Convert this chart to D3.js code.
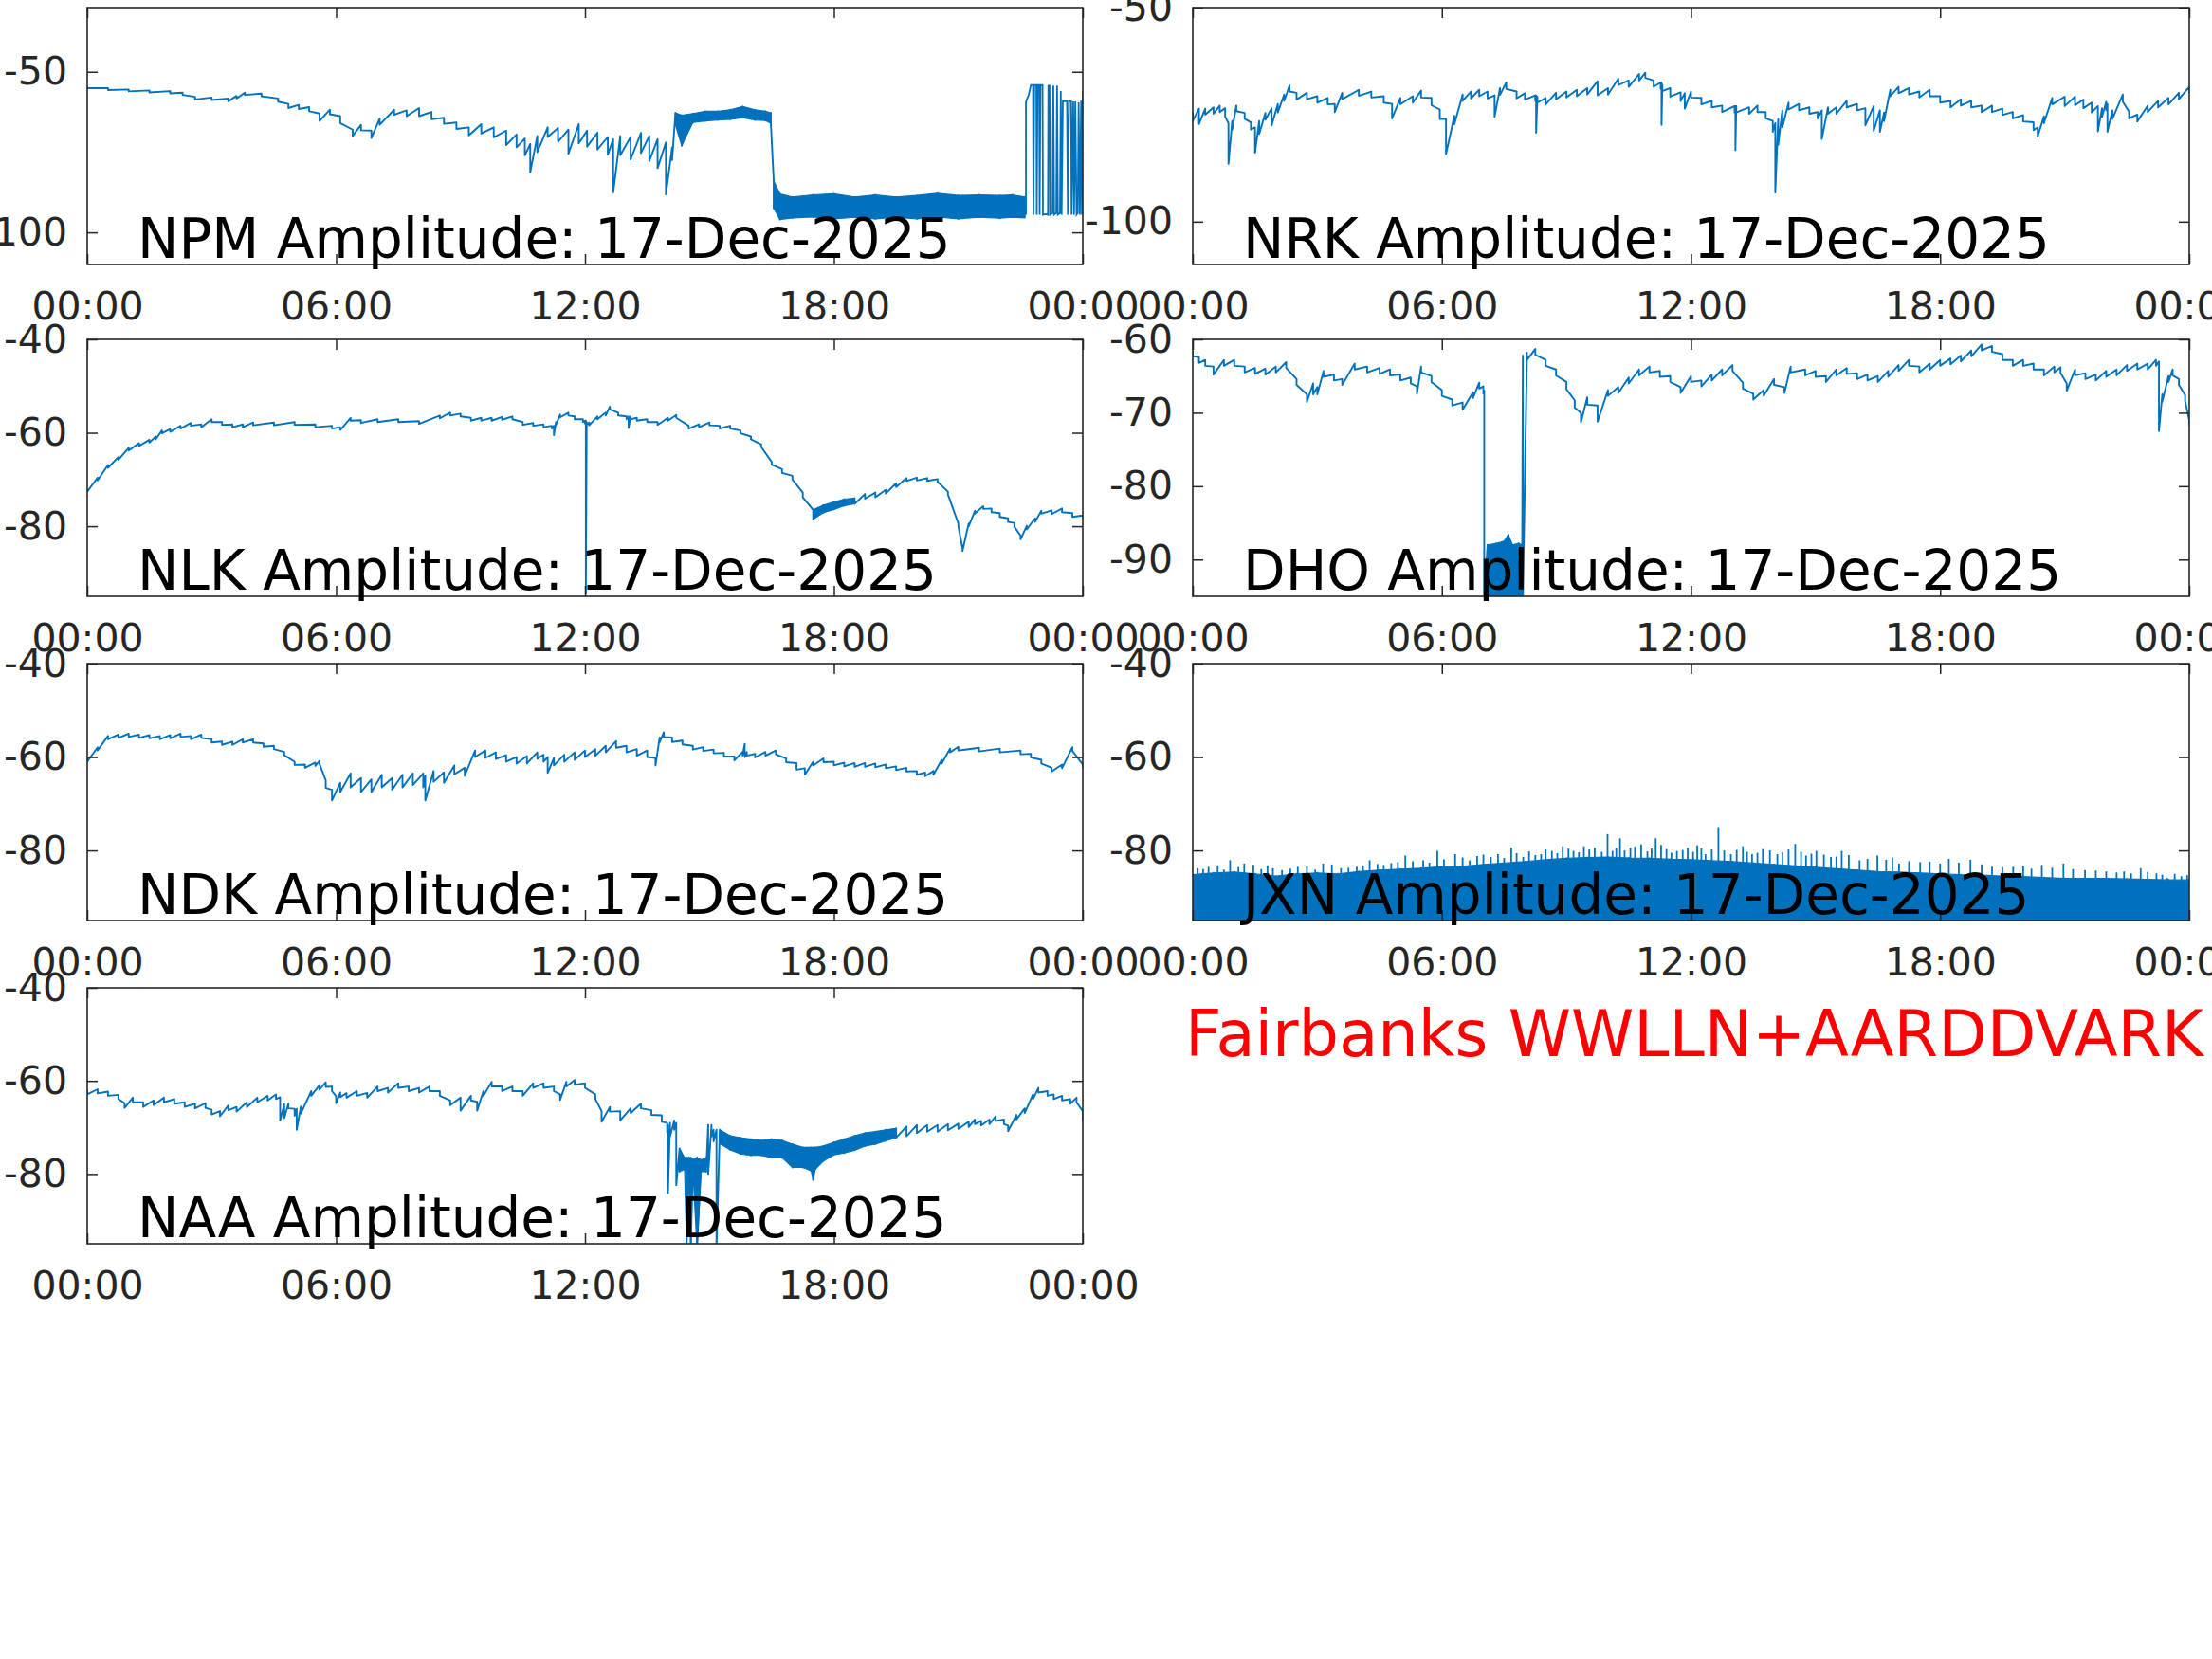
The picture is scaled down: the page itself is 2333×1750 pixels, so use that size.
<!DOCTYPE html>
<html><head><meta charset="utf-8">
<script src="https://cdn.jsdelivr.net/npm/d3@7"></script>
<style>body{margin:0;background:#fff}svg{display:block}</style>
</head><body>
<script>
// ---------- data ----------
const xTickHours = [0, 6, 12, 18, 24];
const xTickLabels = ["00:00", "06:00", "12:00", "18:00", "00:00"];
const dateLabel = "17-Dec-2025";
const siteLabel = "Fairbanks WWLLN+AARDDVARK";

const npmYDomain = [-110, -30], npmYTicks = [-100, -50];
const nrkYDomain = [-110, -50], nrkYTicks = [-100, -50];
const nlkYDomain = [-95, -40], nlkYTicks = [-80, -60, -40];
const dhoYDomain = [-95, -60], dhoYTicks = [-90, -80, -70, -60];
const ndkYDomain = [-95, -40], ndkYTicks = [-80, -60, -40];
const jxnYDomain = [-95, -40], jxnYTicks = [-80, -60, -40];
const naaYDomain = [-95, -40], naaYTicks = [-80, -60, -40];

// rows: [hour, max dB, min dB]
const npmEnv = [[0,-54.4,-55.1],[0.5,-55.1,-55.7],[1,-55.5,-56.1],[1.5,-55.8,-56.4],[2,-56.0,-56.7],[2.3,-56.5,-57.2],[2.6,-57.8,-58.6],[3,-58.0,-58.8],[3.4,-58.3,-59.2],[3.6,-57.5,-58.3],[3.8,-56.5,-57.2],[4.2,-56.8,-57.6],[4.6,-58.3,-59.3],[4.85,-60.0,-61.3],[5.1,-60.3,-61.6],[5.35,-61.0,-62.3],[5.6,-63.0,-65.3],[5.85,-61.8,-63.2],[6.1,-63.8,-66.0],[6.4,-68.0,-70.0],[6.6,-66.5,-68.2],[6.85,-68.3,-70.6],[7.05,-64.6,-66.5],[7.4,-61.8,-63.4],[7.7,-62.0,-63.8],[8.0,-61.3,-63.8],[8.3,-62.5,-64.8],[8.6,-64.3,-66.2],[8.9,-65.8,-67.8],[9.2,-67.3,-69.8],[9.5,-66.3,-69.2],[9.8,-67.3,-70.4],[10.1,-68.3,-72.8],[10.35,-69.5,-73.5],[10.55,-70.8,-76.0],[10.68,-72.5,-81.3],[10.85,-70.0,-75.0],[11.1,-67.3,-70.3],[11.35,-67.5,-71.8],[11.6,-68.0,-75.5],[11.85,-66.3,-72.3],[12.05,-68.3,-73.3],[12.3,-69.0,-74.2],[12.55,-70.3,-75.8],[12.68,-71.0,-87.6],[12.85,-70.0,-76.0],[13.1,-70.3,-77.3],[13.35,-69.0,-75.3],[13.55,-70.0,-77.8],[13.75,-71.0,-80.0],[13.95,-72.0,-88.2],[14.1,-73.5,-77.5],[14.18,-62.8,-66.5],[14.33,-63.5,-73.0],[14.6,-63.0,-65.8],[14.9,-62.3,-65.3],[15.2,-62.3,-65.0],[15.5,-61.8,-64.8],[15.8,-60.8,-64.3],[16.1,-61.8,-65.0],[16.35,-62.3,-65.2],[16.48,-62.8,-66.0],[16.55,-84.0,-92.5],[16.7,-88.0,-96.0],[17.0,-89.0,-95.5],[17.5,-88.3,-95.2],[18.0,-88.0,-95.8],[18.5,-89.0,-95.3],[19.0,-88.3,-95.8],[19.5,-89.0,-95.3],[20.0,-88.5,-95.8],[20.5,-87.8,-95.2],[21.0,-88.5,-95.8],[21.5,-88.3,-95.3],[22.0,-88.5,-95.6],[22.3,-88.3,-95.3],[22.6,-89.0,-95.5]];
// [hour, dB] switching section traced point by point
const npmTrace = [[22.6,-92],[22.63,-94.5],[22.63,-59.4],[22.7,-57],[22.75,-54.1],[22.8,-54.1],[22.81,-94.5],[22.83,-54.1],[22.88,-54.1],[22.89,-94.5],[22.91,-54.1],[22.95,-54.1],[22.96,-94.5],[22.98,-54.1],[23.03,-54.1],[23.04,-94.5],[23.1,-94.3],[23.16,-94.5],[23.17,-54.3],[23.2,-54.3],[23.21,-94.5],[23.27,-94],[23.29,-54.3],[23.31,-94.5],[23.36,-94],[23.38,-54.3],[23.4,-94.5],[23.45,-94],[23.47,-56],[23.49,-94.5],[23.52,-59.2],[23.62,-59.2],[23.64,-94.5],[23.67,-59.2],[23.72,-59.2],[23.73,-94.5],[23.77,-59.2],[23.79,-94.5],[23.82,-59.2],[23.85,-94.5],[23.88,-94],[23.9,-59.5],[23.93,-94.5],[23.96,-59],[23.98,-94.5],[24,-56]];
const npmDense = [[14.18, 16.48], [16.55, 22.6]];

const nrkEnv = [[0,-74.6,-76.5],[0.15,-73.6,-77.2],[0.3,-73.6,-75.0],[0.5,-73.3,-74.8],[0.65,-72.9,-74.4],[0.78,-73.5,-75.5],[0.86,-77.0,-86.5],[0.95,-76.5,-78.5],[1.05,-72.9,-74.2],[1.25,-74.6,-76.0],[1.4,-76.8,-78.5],[1.5,-78.0,-83.9],[1.6,-76.5,-79.5],[1.75,-74.6,-76.2],[1.9,-73.5,-77.5],[2.05,-72.5,-74.5],[2.2,-70.3,-71.8],[2.33,-68.2,-69.6],[2.5,-69.9,-71.5],[2.75,-69.9,-71.4],[3.0,-70.7,-72.2],[3.25,-71.1,-72.6],[3.42,-72.5,-74.4],[3.6,-69.9,-71.4],[4.0,-69.2,-70.6],[4.3,-69.6,-71.0],[4.6,-70.7,-72.2],[4.8,-72.5,-75.9],[5.0,-71.1,-72.6],[5.3,-70.7,-72.2],[5.5,-69.4,-71.0],[5.75,-71.1,-72.8],[5.95,-73.8,-76.0],[6.1,-76.0,-84.2],[6.3,-75.3,-77.3],[6.5,-70.3,-71.8],[6.7,-69.6,-71.2],[6.9,-69.2,-70.7],[7.1,-69.6,-71.2],[7.27,-70.5,-75.5],[7.4,-68.8,-70.4],[7.55,-67.5,-69.0],[7.8,-69.6,-71.2],[8.0,-70.0,-71.5],[8.25,-70.5,-71.8],[8.27,-70.5,-79.2],[8.3,-70.8,-72.2],[8.5,-71.1,-72.6],[8.75,-69.9,-71.4],[9.0,-69.6,-71.0],[9.25,-69.2,-70.7],[9.5,-68.8,-70.3],[9.75,-67.2,-70.5],[10.0,-68.8,-70.3],[10.25,-66.6,-68.1],[10.5,-67.0,-68.5],[10.75,-65.5,-67.0],[10.9,-65.2,-66.4],[11.1,-67.0,-68.5],[11.27,-67.5,-69.0],[11.29,-67.5,-77.4],[11.31,-68.0,-69.5],[11.5,-68.8,-70.8],[11.75,-69.8,-71.8],[11.85,-70.0,-73.6],[12.0,-69.6,-71.0],[12.25,-71.1,-72.6],[12.5,-71.8,-73.3],[12.75,-72.9,-74.4],[13.05,-73.0,-74.5],[13.07,-73.0,-83.3],[13.09,-73.0,-74.5],[13.4,-73.3,-74.8],[13.6,-72.9,-74.4],[13.8,-74.4,-75.9],[13.97,-76.5,-79.0],[14.03,-77.0,-93.2],[14.1,-76.0,-82.0],[14.2,-74.0,-78.0],[14.35,-72.2,-73.8],[14.6,-72.5,-74.0],[14.85,-73.3,-74.8],[15.05,-74.4,-75.9],[15.15,-74.0,-80.7],[15.3,-73.3,-74.8],[15.5,-73.3,-74.8],[15.75,-71.8,-73.3],[16.0,-72.5,-74.0],[16.2,-73.5,-77.5],[16.4,-73.0,-78.8],[16.55,-74.0,-79.0],[16.65,-74.5,-76.5],[16.8,-69.2,-70.7],[17.0,-68.5,-70.0],[17.25,-68.8,-70.3],[17.5,-69.6,-71.0],[17.75,-69.2,-70.7],[18.0,-70.7,-72.2],[18.25,-71.8,-73.3],[18.5,-71.4,-72.9],[18.75,-71.8,-73.3],[19.0,-72.9,-74.4],[19.25,-72.9,-74.4],[19.5,-73.6,-75.1],[19.75,-74.4,-75.9],[20.0,-75.1,-76.6],[20.25,-76.8,-78.6],[20.35,-78.0,-80.1],[20.5,-75.4,-77.0],[20.7,-71.1,-72.6],[21.0,-70.8,-73.0],[21.25,-70.8,-72.8],[21.45,-71.5,-73.5],[21.65,-72.2,-74.5],[21.8,-73.0,-78.9],[21.9,-73.5,-75.5],[22.0,-72.0,-74.0],[22.03,-72.5,-79.0],[22.15,-74.0,-76.0],[22.4,-70.3,-72.0],[22.55,-74.3,-75.9],[22.75,-75.0,-76.6],[23.0,-72.9,-74.4],[23.25,-71.8,-73.3],[23.5,-71.1,-72.6],[23.75,-69.9,-71.4],[24.0,-68.5,-70.0]];

const nlkEnv = [[0,-72.0,-72.6],[0.25,-69.6,-70.2],[0.5,-66.9,-67.5],[0.75,-65.2,-65.8],[1,-63.2,-63.8],[1.25,-62.2,-62.8],[1.5,-61.5,-62.1],[1.65,-60.8,-61.4],[1.8,-59.5,-60.1],[2,-59.2,-59.8],[2.25,-58.5,-59.1],[2.5,-57.9,-58.5],[2.75,-58.2,-58.8],[3,-57.1,-57.7],[3.25,-57.7,-58.3],[3.5,-58.2,-58.8],[3.75,-58.2,-58.8],[4,-57.8,-58.4],[4.5,-57.8,-58.4],[5,-57.7,-58.3],[5.5,-58.2,-58.8],[5.9,-58.5,-59.1],[6.1,-58.8,-59.4],[6.35,-56.8,-57.4],[6.6,-57.3,-57.9],[7,-57.1,-57.7],[7.5,-57.1,-57.7],[8,-57.5,-58.1],[8.5,-56.3,-56.9],[8.75,-55.7,-56.3],[9,-55.9,-56.5],[9.25,-56.8,-57.4],[9.5,-56.8,-57.4],[9.75,-56.8,-57.4],[10,-56.6,-57.2],[10.25,-56.5,-57.1],[10.5,-57.7,-58.3],[10.75,-57.9,-58.5],[11,-58.2,-58.8],[11.2,-58.5,-59.1],[11.25,-58.5,-60.5],[11.3,-57.7,-58.3],[11.4,-56.1,-56.7],[11.6,-55.7,-56.3],[11.75,-56.5,-57.1],[11.95,-57.1,-57.7],[12.0,-57.4,-58.0],[12.02,-57.4,-94.5],[12.04,-57.7,-58.3],[12.1,-57.8,-58.4],[12.3,-56.5,-57.1],[12.5,-55.7,-56.3],[12.6,-54.4,-55.0],[12.8,-55.7,-56.3],[13,-56.5,-57.1],[13.05,-56.5,-59.0],[13.1,-56.5,-57.1],[13.25,-56.8,-57.4],[13.5,-57.1,-57.7],[13.75,-57.7,-58.3],[14,-56.8,-57.4],[14.2,-56.2,-56.8],[14.5,-58.5,-59.1],[14.75,-58.2,-58.8],[15,-57.8,-58.4],[15.25,-58.5,-59.1],[15.5,-58.5,-59.1],[15.75,-59.5,-60.1],[16,-60.8,-61.4],[16.25,-62.5,-63.1],[16.5,-66.2,-66.8],[16.75,-67.8,-68.6],[17,-69.2,-70.0],[17.25,-72.8,-73.8],[17.5,-76.5,-78.5],[17.75,-75.5,-77.1],[18,-74.8,-76.4],[18.25,-74.2,-75.6],[18.5,-74.0,-75.2],[18.75,-73.1,-74.1],[19,-72.8,-73.8],[19.25,-72.2,-73.0],[19.5,-70.8,-71.6],[19.75,-69.7,-70.3],[20,-69.6,-70.2],[20.25,-69.7,-70.3],[20.5,-69.9,-70.5],[20.75,-72.6,-73.2],[21,-79.4,-80.0],[21.1,-84.7,-85.3],[21.25,-79.4,-80.0],[21.4,-76.7,-77.3],[21.6,-75.7,-76.3],[21.8,-76.2,-77.0],[22,-77.2,-78.0],[22.2,-78.3,-79.1],[22.35,-79.3,-80.1],[22.5,-82.0,-82.8],[22.65,-79.9,-80.7],[22.85,-78.3,-79.1],[23,-76.7,-77.3],[23.25,-76.6,-77.4],[23.5,-76.2,-77.0],[23.75,-77.2,-78.0],[24,-77.7,-78.3]];
const nlkDense = [[17.4, 18.6]];

const dhoEnv = [[0,-61.5,-62.3],[0.15,-62.4,-63.2],[0.3,-62.8,-63.6],[0.5,-63.7,-64.8],[0.75,-62.8,-63.6],[1.0,-62.8,-63.6],[1.25,-63.7,-64.5],[1.5,-63.9,-64.7],[1.75,-64.0,-64.8],[2.0,-63.7,-64.5],[2.25,-63.1,-63.9],[2.5,-65.4,-66.2],[2.75,-67.5,-68.5],[2.9,-66.0,-67.5],[3.0,-66.5,-67.5],[3.15,-64.3,-65.1],[3.4,-64.8,-65.6],[3.6,-65.4,-66.2],[3.9,-63.3,-64.1],[4.2,-63.7,-64.5],[4.5,-63.9,-64.7],[4.75,-64.1,-64.9],[5.0,-64.8,-65.6],[5.25,-65.2,-66.0],[5.4,-66.4,-67.4],[5.5,-63.7,-64.5],[5.75,-65.0,-65.8],[6.0,-66.9,-67.7],[6.25,-68.2,-69.0],[6.5,-68.6,-69.6],[6.75,-67.2,-68.0],[6.9,-65.9,-66.7],[7.0,-66.4,-67.4],[7.02,-67.0,-95.5],[7.1,-88.0,-96.0],[7.3,-87.8,-96.0],[7.5,-87.5,-96.0],[7.6,-86.6,-96.0],[7.7,-88.0,-96.0],[7.85,-87.8,-96.0],[7.93,-88.0,-96.0],[7.95,-62.2,-96.0],[8.05,-61.8,-62.8],[8.25,-61.3,-62.1],[8.5,-62.8,-63.6],[8.75,-64.1,-64.9],[9.0,-65.8,-66.8],[9.2,-68.3,-69.3],[9.35,-70.0,-71.3],[9.5,-67.9,-68.9],[9.75,-69.0,-71.2],[10.0,-66.9,-67.7],[10.25,-66.5,-67.3],[10.5,-65.2,-66.0],[10.75,-64.1,-64.9],[11.0,-63.7,-64.5],[11.25,-64.3,-65.1],[11.5,-65.0,-65.8],[11.75,-66.5,-67.3],[12.0,-65.0,-65.8],[12.25,-65.6,-66.4],[12.5,-64.8,-65.6],[12.75,-64.1,-64.9],[13.0,-63.5,-64.3],[13.25,-65.9,-66.7],[13.5,-67.4,-68.2],[13.75,-66.9,-67.7],[14.0,-65.4,-66.2],[14.25,-66.5,-67.3],[14.4,-63.7,-64.5],[14.75,-64.1,-64.9],[15.0,-64.3,-65.1],[15.25,-65.0,-65.8],[15.5,-64.1,-64.9],[15.75,-63.9,-64.7],[16.0,-64.6,-65.4],[16.25,-64.8,-65.6],[16.5,-65.0,-65.8],[16.75,-64.3,-65.1],[17.0,-63.5,-64.3],[17.25,-62.8,-63.6],[17.5,-63.7,-64.5],[17.75,-63.3,-64.1],[18.0,-62.8,-63.6],[18.25,-62.6,-63.4],[18.5,-62.2,-63.0],[18.75,-61.5,-62.3],[19.0,-60.7,-61.5],[19.25,-60.9,-61.7],[19.5,-62.0,-62.8],[19.75,-62.8,-63.6],[20.0,-62.8,-63.6],[20.25,-63.3,-64.1],[20.5,-64.1,-64.9],[20.75,-63.7,-64.5],[20.9,-63.8,-64.6],[21.05,-66.0,-67.0],[21.25,-64.1,-64.9],[21.5,-64.6,-65.4],[21.75,-64.8,-65.6],[22.0,-64.3,-65.1],[22.25,-64.1,-64.9],[22.5,-63.5,-64.3],[22.75,-63.3,-64.1],[23.0,-63.3,-64.1],[23.2,-62.8,-63.6],[23.27,-63.0,-72.5],[23.35,-67.5,-68.5],[23.5,-65.0,-65.8],[23.6,-64.1,-64.9],[23.75,-65.4,-66.2],[23.9,-67.6,-68.4],[24.0,-71.0,-71.8]];
const dhoDense = [[7.05, 7.93]];

const ndkEnv = [[0,-60.3,-61.0],[0.25,-57.9,-58.6],[0.5,-55.5,-56.2],[0.75,-55.2,-55.9],[1,-55.0,-55.7],[1.25,-55.2,-55.9],[1.5,-55.3,-56.0],[1.75,-55.5,-56.2],[2,-55.3,-56.0],[2.25,-55.0,-55.7],[2.5,-55.5,-56.2],[2.75,-55.2,-55.9],[3,-56.2,-56.9],[3.25,-56.7,-57.4],[3.5,-56.7,-57.4],[3.75,-56.2,-56.9],[4,-56.2,-56.9],[4.25,-57.1,-57.8],[4.5,-57.6,-58.3],[4.75,-58.9,-59.6],[5,-61.0,-61.7],[5.25,-61.6,-62.3],[5.5,-61.2,-61.9],[5.6,-60.8,-61.5],[5.75,-65.0,-66.6],[5.9,-67.0,-69.3],[6.1,-65.5,-67.5],[6.35,-63.5,-66.5],[6.6,-64.5,-67.5],[6.85,-64.8,-67.5],[7.1,-63.8,-66.5],[7.35,-64.5,-67.0],[7.6,-63.8,-66.5],[7.85,-63.5,-66.0],[8.1,-63.5,-66.5],[8.15,-64.0,-69.3],[8.35,-63.0,-65.3],[8.6,-63.3,-65.5],[8.85,-61.8,-63.7],[9.1,-62.3,-64.0],[9.35,-58.6,-60.0],[9.6,-58.6,-60.2],[9.85,-59.0,-60.4],[10.1,-59.6,-61.0],[10.35,-60.0,-61.4],[10.6,-59.8,-61.4],[10.85,-59.0,-60.4],[11.0,-59.5,-61.0],[11.1,-60.0,-63.4],[11.25,-60.2,-61.8],[11.5,-59.5,-61.0],[11.75,-59.0,-60.6],[12.0,-58.6,-60.0],[12.25,-58.3,-59.7],[12.5,-57.6,-59.0],[12.75,-56.6,-58.0],[13.0,-57.6,-59.0],[13.25,-58.3,-59.7],[13.5,-58.6,-60.0],[13.7,-60.2,-61.8],[13.8,-55.8,-56.8],[13.9,-54.7,-55.7],[14.1,-55.8,-56.8],[14.35,-56.5,-57.3],[14.6,-57.6,-58.4],[14.85,-57.9,-58.7],[15.1,-58.4,-59.2],[15.35,-59.1,-59.9],[15.6,-59.9,-60.7],[15.8,-58.9,-59.7],[15.85,-57.2,-60.0],[15.9,-58.9,-59.7],[16.1,-59.3,-60.1],[16.35,-58.9,-59.7],[16.6,-58.6,-59.4],[16.85,-60.3,-61.1],[17.1,-61.3,-62.7],[17.3,-62.4,-63.8],[17.5,-61.0,-61.8],[17.75,-60.3,-61.1],[18.0,-61.0,-61.8],[18.25,-61.2,-62.0],[18.5,-61.3,-62.1],[18.75,-61.3,-62.1],[19.0,-61.4,-62.2],[19.25,-61.6,-62.4],[19.5,-62.0,-62.8],[19.75,-62.3,-63.1],[20.0,-63.0,-63.8],[20.2,-63.3,-64.1],[20.4,-63.0,-63.8],[20.6,-60.6,-61.4],[20.8,-58.2,-59.0],[21.0,-57.8,-58.6],[21.5,-58.0,-58.8],[22.0,-58.2,-59.0],[22.5,-58.6,-59.4],[22.75,-59.3,-60.1],[23.0,-60.6,-61.4],[23.25,-62.3,-63.1],[23.5,-61.6,-62.4],[23.75,-57.9,-58.7],[24.0,-61.6,-62.4]];

const jxnEnv = [[0,-85.2,-97],[0.5,-84.8,-97],[1,-84.6,-97],[1.5,-85.0,-97],[2,-85.5,-97],[2.5,-85.0,-97],[3,-84.8,-97],[3.5,-85.0,-97],[4,-84.5,-97],[4.5,-84.2,-97],[5,-84.0,-97],[5.5,-83.8,-97],[6,-83.5,-97],[6.5,-83.4,-97],[7,-83.0,-97],[7.5,-82.7,-97],[8,-82.4,-97],[8.5,-82.0,-97],[9,-81.7,-97],[9.5,-81.5,-97],[10,-81.4,-97],[10.5,-81.6,-97],[11,-81.7,-97],[11.5,-81.9,-97],[12,-82.0,-97],[12.5,-82.2,-97],[13,-82.4,-97],[13.5,-82.7,-97],[14,-83.0,-97],[14.5,-83.3,-97],[15,-83.6,-97],[15.5,-83.9,-97],[16,-84.2,-97],[16.5,-84.5,-97],[17,-84.6,-97],[17.5,-84.8,-97],[18,-85.0,-97],[18.5,-85.2,-97],[19,-85.3,-97],[19.5,-85.5,-97],[20,-85.6,-97],[20.5,-85.8,-97],[21,-86.0,-97],[21.5,-86.0,-97],[22,-86.0,-97],[22.5,-86.1,-97],[23,-86.2,-97],[23.5,-86.3,-97],[24,-86.3,-97]];
const jxnDense = [[0, 24]];
// [hour, peak dB] of the visible noise spikes
const jxnSpikes = [[0.12,-83.8],[0.25,-84.0],[0.38,-83.5],[0.6,-83.2],[0.75,-84.1],[0.9,-82.1],[1.1,-83.6],[1.24,-82.8],[1.46,-83.1],[1.65,-84.0],[1.8,-83.2],[1.93,-83.8],[2.15,-84.2],[2.35,-83.9],[2.53,-83.5],[2.75,-83.4],[2.95,-84.1],[3.14,-82.8],[3.35,-83.0],[3.57,-83.8],[3.75,-83.7],[3.95,-83.5],[4.1,-83.2],[4.26,-82.1],[4.45,-82.9],[4.6,-83.1],[4.78,-82.7],[4.94,-82.5],[5.12,-81.1],[5.3,-82.3],[5.55,-82.1],[5.7,-82.6],[5.89,-80.1],[6.05,-81.9],[6.32,-80.8],[6.5,-81.5],[6.67,-82.1],[6.85,-81.2],[7.0,-80.9],[7.18,-81.4],[7.35,-80.8],[7.5,-81.6],[7.67,-79.4],[7.8,-80.6],[7.96,-81.4],[8.1,-80.2],[8.25,-81.0],[8.39,-80.8],[8.5,-79.8],[8.65,-80.1],[8.78,-80.6],[8.91,-79.1],[9.05,-79.6],[9.17,-80.1],[9.3,-80.4],[9.42,-79.1],[9.55,-79.8],[9.68,-79.4],[9.85,-80.3],[9.99,-76.5],[10.11,-80.1],[10.2,-79.5],[10.29,-77.4],[10.4,-80.0],[10.54,-79.4],[10.65,-79.2],[10.8,-78.7],[10.95,-80.2],[11.05,-79.6],[11.15,-77.4],[11.28,-78.8],[11.41,-79.7],[11.53,-80.5],[11.66,-80.1],[11.8,-79.9],[11.92,-79.4],[12.05,-80.3],[12.15,-78.9],[12.25,-79.5],[12.35,-80.8],[12.5,-79.8],[12.66,-75.0],[12.8,-80.0],[12.96,-80.8],[13.1,-79.9],[13.25,-79.1],[13.35,-80.3],[13.47,-80.8],[13.6,-80.5],[13.73,-79.7],[13.9,-80.0],[14.08,-80.8],[14.2,-80.4],[14.35,-79.8],[14.51,-78.6],[14.65,-80.3],[14.77,-81.1],[14.9,-80.7],[15.02,-80.1],[15.2,-80.9],[15.37,-81.4],[15.5,-81.3],[15.63,-80.1],[15.8,-81.0],[16.06,-82.1],[16.25,-81.8],[16.49,-81.1],[16.7,-82.0],[16.85,-81.5],[17.01,-82.8],[17.25,-82.3],[17.52,-82.5],[17.75,-82.4],[18.0,-82.8],[18.21,-81.8],[18.45,-82.6],[18.73,-82.0],[19.0,-83.0],[19.25,-83.5],[19.5,-83.6],[19.76,-83.5],[20.0,-83.3],[20.2,-83.9],[20.45,-83.1],[20.7,-83.7],[20.97,-82.8],[21.2,-84.0],[21.49,-84.2],[21.75,-84.3],[22.0,-84.5],[22.25,-84.7],[22.43,-84.5],[22.6,-84.9],[22.83,-83.8],[23.0,-84.6],[23.21,-84.9],[23.35,-85.2],[23.47,-85.9],[23.65,-85.0],[23.81,-85.5],[23.95,-85.3]];

const naaEnv = [[0,-62.0,-62.9],[0.25,-61.8,-62.7],[0.5,-62.3,-63.2],[0.75,-63.0,-63.9],[0.9,-64.8,-65.8],[1.1,-63.6,-64.6],[1.35,-64.6,-65.6],[1.6,-64.2,-65.2],[1.85,-63.6,-64.6],[2.1,-63.9,-64.9],[2.35,-64.6,-65.6],[2.6,-64.9,-65.9],[2.85,-64.8,-65.8],[3.0,-66.2,-67.2],[3.2,-66.5,-67.6],[3.4,-65.3,-66.3],[3.6,-65.6,-66.6],[3.85,-64.6,-65.6],[4.1,-63.6,-64.6],[4.35,-63.2,-64.2],[4.55,-62.9,-63.9],[4.65,-63.5,-68.5],[4.75,-65.0,-68.0],[4.85,-64.9,-65.9],[5.0,-66.0,-67.5],[5.05,-66.0,-70.5],[5.15,-65.5,-67.0],[5.4,-62.2,-63.2],[5.6,-60.9,-61.9],[5.75,-60.3,-61.3],[5.9,-61.2,-62.2],[6.0,-63.3,-64.8],[6.1,-62.5,-63.5],[6.25,-62.6,-63.6],[6.5,-62.2,-63.2],[6.75,-62.6,-63.6],[7.0,-61.2,-62.2],[7.25,-61.5,-62.5],[7.5,-60.5,-61.5],[7.75,-61.2,-62.2],[8.0,-61.5,-62.5],[8.25,-61.2,-62.2],[8.5,-62.2,-63.2],[8.75,-64.2,-65.2],[9.0,-63.6,-66.4],[9.25,-63.2,-64.2],[9.4,-64.5,-66.4],[9.55,-62.2,-63.2],[9.75,-60.2,-61.2],[10.0,-61.2,-62.2],[10.25,-61.2,-62.2],[10.5,-62.2,-63.2],[10.75,-60.5,-61.5],[11.0,-60.5,-61.5],[11.25,-61.2,-62.2],[11.4,-62.9,-64.1],[11.55,-60.2,-61.2],[11.75,-59.8,-60.8],[12.0,-60.5,-61.5],[12.25,-62.9,-63.9],[12.4,-66.5,-68.8],[12.6,-65.6,-66.6],[12.85,-66.5,-68.5],[13.1,-65.9,-66.9],[13.35,-64.9,-65.9],[13.6,-66.3,-67.3],[13.85,-67.4,-68.8],[13.98,-69.0,-71.0],[14.0,-69.5,-84.1],[14.05,-69.0,-72.0],[14.15,-68.5,-70.5],[14.2,-69.0,-82.4],[14.28,-74.5,-79.5],[14.4,-76.5,-79.0],[14.45,-76.5,-96],[14.5,-76.5,-79.0],[14.55,-76.5,-96],[14.6,-76.8,-79.0],[14.7,-76.5,-96],[14.8,-77.0,-79.5],[14.92,-76.5,-79.5],[14.97,-69.5,-80.0],[15.05,-69.5,-72.0],[15.1,-70.5,-73.0],[15.17,-70.5,-96],[15.25,-70.5,-73.5],[15.5,-71.8,-74.8],[15.75,-72.2,-75.7],[16.0,-72.5,-76.0],[16.25,-72.8,-76.0],[16.5,-72.5,-76.5],[16.75,-72.8,-76.5],[17.0,-73.6,-78.6],[17.25,-74.3,-78.6],[17.45,-74.3,-79.3],[17.5,-74.3,-81.3],[17.55,-74.3,-79.0],[17.75,-74.0,-77.2],[18.0,-73.2,-75.9],[18.25,-72.5,-75.5],[18.5,-71.8,-74.9],[18.75,-71.2,-74.0],[19.0,-70.9,-73.6],[19.25,-70.5,-72.9],[19.5,-70.2,-72.2],[19.75,-69.8,-71.9],[20.0,-69.5,-71.2],[20.25,-69.5,-70.9],[20.5,-69.5,-70.9],[20.75,-69.3,-70.6],[21.0,-69.2,-70.3],[21.25,-68.8,-69.9],[21.4,-68.3,-69.3],[21.55,-68.6,-69.6],[21.75,-68.3,-69.3],[21.9,-67.6,-68.6],[22.1,-68.3,-69.3],[22.2,-69.6,-70.8],[22.4,-67.3,-68.3],[22.6,-65.9,-66.9],[22.8,-62.9,-63.9],[22.93,-61.5,-62.5],[23.15,-62.2,-63.2],[23.3,-62.9,-63.9],[23.5,-63.2,-64.2],[23.7,-63.9,-64.9],[23.85,-63.6,-64.6],[24.0,-66.5,-68.5]];
const naaDense = [[14.28, 14.92], [15.25, 19.5]];

// ---------- layout ----------
const W = 2333, H = 1750;
const BLUE = "#0072bd", AXC = "#262626", FONT = "DejaVu Sans";
const colX = [[92, 1142], [1258, 2309]];
const rowY = [[8, 279], [358, 629], [700, 971], [1042, 1312]];
const panels = [
  {name: "NPM", env: npmEnv, dense: npmDense, trace: npmTrace, dom: npmYDomain, ticks: npmYTicks, c: 0, r: 0},
  {name: "NRK", env: nrkEnv, dense: [], dom: nrkYDomain, ticks: nrkYTicks, c: 1, r: 0},
  {name: "NLK", env: nlkEnv, dense: nlkDense, dom: nlkYDomain, ticks: nlkYTicks, c: 0, r: 1},
  {name: "DHO", env: dhoEnv, dense: dhoDense, dom: dhoYDomain, ticks: dhoYTicks, c: 1, r: 1},
  {name: "NDK", env: ndkEnv, dense: [], dom: ndkYDomain, ticks: ndkYTicks, c: 0, r: 2},
  {name: "JXN", env: jxnEnv, dense: jxnDense, spikes: jxnSpikes, dom: jxnYDomain, ticks: jxnYTicks, c: 1, r: 2},
  {name: "NAA", env: naaEnv, dense: naaDense, dom: naaYDomain, ticks: naaYTicks, c: 0, r: 3}
];

const svg = d3.select("body").append("svg").attr("width", W).attr("height", H)
  .attr("font-family", FONT);
svg.append("rect").attr("width", W).attr("height", H).attr("fill", "#fff");
const defs = svg.append("defs");

panels.forEach((p, i) => {
  const [x0, x1] = colX[p.c], [y0, y1] = rowY[p.r];
  const x = d3.scaleLinear().domain([0, 24]).range([x0, x1]);
  const y = d3.scaleLinear().domain(p.dom).range([y1, y0]);
  const g = svg.append("g");
  const cid = "clip" + i;
  defs.append("clipPath").attr("id", cid).append("rect")
    .attr("x", x0).attr("y", y0).attr("width", x1 - x0).attr("height", y1 - y0);
  const dg = g.append("g").attr("clip-path", `url(#${cid})`);

  // dense (solid) stretches: filled min-max envelope
  p.dense.forEach(([a, b]) => {
    const rows = p.env.filter(d => d[0] >= a && d[0] <= b);
    dg.append("path").datum(rows)
      .attr("d", d3.area().x(d => x(d[0])).y0(d => y(d[2])).y1(d => y(d[1])))
      .attr("fill", BLUE).attr("stroke", BLUE).attr("stroke-width", 1.2);
  });
  // min-max trace: vertical stroke per sample, joined sample to sample
  const zig = p.env.flatMap(d => [[d[0], d[1]], [d[0], d[2]]]);
  dg.append("path").datum(zig)
    .attr("d", d3.line().x(d => x(d[0])).y(d => y(d[1])))
    .attr("fill", "none").attr("stroke", BLUE).attr("stroke-width", 1.9)
    .attr("stroke-linejoin", "round");
  if (p.trace) {
    dg.append("path").datum(p.trace)
      .attr("d", d3.line().x(d => x(d[0])).y(d => y(d[1])))
      .attr("fill", "none").attr("stroke", BLUE).attr("stroke-width", 1.8);
  }
  if (p.spikes) {
    dg.selectAll("line.spk").data(p.spikes).join("line")
      .attr("x1", d => x(d[0])).attr("x2", d => x(d[0]))
      .attr("y1", y(p.dom[0])).attr("y2", d => y(d[1]))
      .attr("stroke", BLUE).attr("stroke-width", 1.8);
  }

  // axes (ticks inward on all four sides)
  const styleAxis = a => {
    a.select(".domain").remove();
    a.selectAll(".tick line").attr("stroke", AXC).attr("stroke-width", 1.5);
    a.selectAll("text").attr("fill", AXC).attr("font-size", 41).attr("font-family", FONT);
  };
  g.append("g").attr("transform", `translate(0,${y1})`)
    .call(d3.axisBottom(x).tickValues(xTickHours).tickFormat((d, k) => xTickLabels[k])
      .tickSizeInner(-11).tickSizeOuter(0).tickPadding(29)).call(styleAxis);
  g.append("g").attr("transform", `translate(0,${y0})`)
    .call(d3.axisTop(x).tickValues(xTickHours).tickFormat("")
      .tickSizeInner(-11).tickSizeOuter(0)).call(styleAxis);
  g.append("g").attr("transform", `translate(${x0},0)`)
    .call(d3.axisLeft(y).tickValues(p.ticks).tickFormat(d => String(d))
      .tickSizeInner(-11).tickSizeOuter(0).tickPadding(21)).call(styleAxis);
  g.append("g").attr("transform", `translate(${x1},0)`)
    .call(d3.axisRight(y).tickValues(p.ticks).tickFormat("")
      .tickSizeInner(-11).tickSizeOuter(0)).call(styleAxis);
  g.append("rect").attr("x", x0).attr("y", y0).attr("width", x1 - x0).attr("height", y1 - y0)
    .attr("fill", "none").attr("stroke", AXC).attr("stroke-width", 1.6);

  g.append("text").attr("x", x0 + 53).attr("y", y1 - 7)
    .attr("font-size", 58).attr("fill", "#000")
    .text(`${p.name} Amplitude: ${dateLabel}`);
});

svg.append("text").attr("x", 1250).attr("y", 1114)
  .attr("font-size", 67).attr("fill", "#ff0000").text(siteLabel);
</script>
</body></html>
